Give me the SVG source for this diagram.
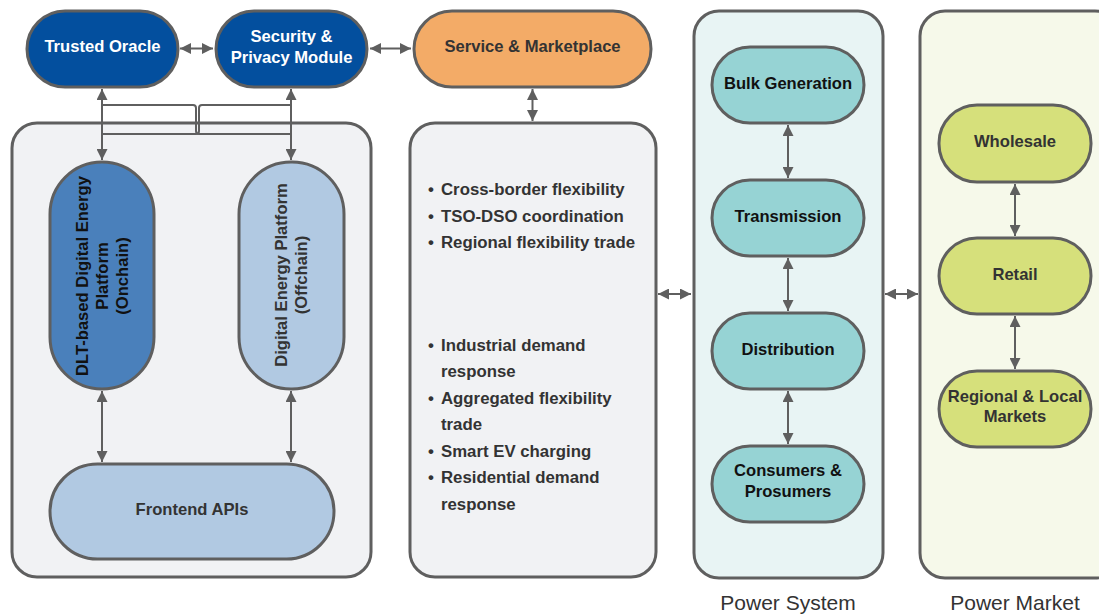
<svg xmlns="http://www.w3.org/2000/svg" width="1099" height="616" viewBox="0 0 1099 616">
<style>
.box{stroke:#5f5f5f;stroke-width:3}
.nd{stroke:#5f5f5f;stroke-width:3}
.t{font-family:"Liberation Sans",Arial,sans-serif;font-weight:bold;font-size:16.6px;text-anchor:middle}
.w{fill:#ffffff}
.k{fill:#111111}
.g{fill:#333333}
.b{font-family:"Liberation Sans",Arial,sans-serif;font-weight:bold;font-size:16.8px;fill:#333333}
.lbl{font-family:"Liberation Sans",Arial,sans-serif;font-size:21px;fill:#333333;text-anchor:middle}
.c{fill:none;stroke:#5f5f5f;stroke-width:2}
</style>
<defs>
<marker id="ah" viewBox="0 0 10 10" refX="10" refY="5" markerWidth="11" markerHeight="11" markerUnits="userSpaceOnUse" orient="auto-start-reverse">
<path d="M0,0 L10,5 L0,10 z" fill="#5f5f5f"/>
</marker>
</defs>
<rect width="1099" height="616" fill="#ffffff"/>

<g id="onchain-offchain-container">
<rect class="box" x="12" y="123" width="359" height="454" rx="25" fill="#f1f2f4"/>
</g>
<g id="use-cases">
<rect class="box" x="410" y="123" width="246" height="454" rx="25" fill="#f1f2f4"/>
<text class="b" x="428" y="195">•</text><text class="b" x="441" y="195">Cross-border flexibility</text>
<text class="b" x="428" y="222">•</text><text class="b" x="441" y="222">TSO-DSO coordination</text>
<text class="b" x="428" y="248">•</text><text class="b" x="441" y="248">Regional flexibility trade</text>
<text class="b" x="428" y="351">•</text><text class="b" x="441" y="351">Industrial demand</text>
<text class="b" x="441" y="377">response</text>
<text class="b" x="428" y="404">•</text><text class="b" x="441" y="404">Aggregated flexibility</text>
<text class="b" x="441" y="430">trade</text>
<text class="b" x="428" y="457">•</text><text class="b" x="441" y="457">Smart EV charging</text>
<text class="b" x="428" y="483">•</text><text class="b" x="441" y="483">Residential demand</text>
<text class="b" x="441" y="510">response</text>
</g>
<g id="power-system">
<rect class="box" x="694" y="11" width="189" height="567" rx="25" fill="#e8f4f4"/>
<text class="lbl" x="788" y="610">Power System</text>
</g>
<g id="power-market">
<rect class="box" x="920" y="11" width="200" height="567" rx="25" fill="#f6f9ea"/>
<text class="lbl" x="1015" y="610">Power Market</text>
</g>

<g id="trusted-oracle">
<rect class="nd" x="27" y="11" width="151" height="76" rx="38" fill="#034f9e"/>
<text class="t w" x="102.5" y="52">Trusted Oracle</text>
</g>
<g id="security-privacy">
<rect class="nd" x="216" y="11" width="151" height="76" rx="38" fill="#034f9e"/>
<text class="t w" x="291.5" y="42">Security &amp;</text>
<text class="t w" x="291.5" y="62.5">Privacy Module</text>
</g>
<g id="service-marketplace">
<rect class="nd" x="414" y="11" width="237" height="76" rx="38" fill="#f3ab67"/>
<text class="t g" x="532.5" y="52">Service &amp; Marketplace</text>
</g>

<g id="dlt-platform">
<rect class="nd" x="50" y="162" width="104" height="227" rx="52" fill="#4a80bb"/>
<g transform="translate(102,276) rotate(-90)">
<text class="t k" x="0" y="-14">DLT-based Digital Energy</text>
<text class="t k" x="0" y="6">Platform</text>
<text class="t k" x="0" y="26">(Onchain)</text>
</g>
</g>
<g id="offchain-platform">
<rect class="nd" x="239" y="162" width="105" height="227" rx="52" fill="#b1c9e2"/>
<g transform="translate(291,275) rotate(-90)">
<text class="t g" x="0" y="-4">Digital Energy Platform</text>
<text class="t g" x="0" y="16">(Offchain)</text>
</g>
</g>
<g id="frontend-apis">
<rect class="nd" x="50" y="464" width="284" height="95" rx="47.5" fill="#b1c9e2"/>
<text class="t g" x="192" y="515">Frontend APIs</text>
</g>

<g id="bulk-generation">
<rect class="nd" x="712" y="47" width="152" height="76" rx="38" fill="#96d3d4"/>
<text class="t k" x="788" y="88.5">Bulk Generation</text>
</g>
<g id="transmission">
<rect class="nd" x="712" y="180" width="152" height="76" rx="38" fill="#96d3d4"/>
<text class="t k" x="788" y="221.5">Transmission</text>
</g>
<g id="distribution">
<rect class="nd" x="712" y="313" width="152" height="76" rx="38" fill="#96d3d4"/>
<text class="t k" x="788" y="354.5">Distribution</text>
</g>
<g id="consumers-prosumers">
<rect class="nd" x="712" y="446" width="152" height="76" rx="38" fill="#96d3d4"/>
<text class="t k" x="788" y="476">Consumers &amp;</text>
<text class="t k" x="788" y="497">Prosumers</text>
</g>

<g id="wholesale">
<rect class="nd" x="939" y="105" width="152" height="77" rx="38" fill="#d6e07b"/>
<text class="t g" x="1015" y="147">Wholesale</text>
</g>
<g id="retail">
<rect class="nd" x="939" y="238" width="152" height="76" rx="38" fill="#d6e07b"/>
<text class="t g" x="1015" y="279.5">Retail</text>
</g>
<g id="regional-local">
<rect class="nd" x="939" y="371" width="152" height="76" rx="38" fill="#d6e07b"/>
<text class="t g" x="1015" y="402">Regional &amp; Local</text>
<text class="t g" x="1015" y="422">Markets</text>
</g>

<g id="connectors">
<line class="c" x1="180" y1="48.5" x2="213" y2="48.5" marker-start="url(#ah)" marker-end="url(#ah)"/>
<line class="c" x1="370" y1="48.5" x2="411" y2="48.5" marker-start="url(#ah)" marker-end="url(#ah)"/>
<line class="c" x1="532.5" y1="89" x2="532.5" y2="121" marker-start="url(#ah)" marker-end="url(#ah)"/>
<line class="c" x1="102" y1="89" x2="102" y2="160" marker-start="url(#ah)" marker-end="url(#ah)"/>
<line class="c" x1="291" y1="89" x2="291" y2="160" marker-start="url(#ah)" marker-end="url(#ah)"/>
<path class="c" d="M102,105 H193 Q196,105 196,108 V131 Q196,134 199,134 H291"/>
<path class="c" d="M291,105 H202 Q199,105 199,108 V131 Q199,134 196,134 H102"/>
<line class="c" x1="102" y1="391" x2="102" y2="462" marker-start="url(#ah)" marker-end="url(#ah)"/>
<line class="c" x1="291" y1="391" x2="291" y2="462" marker-start="url(#ah)" marker-end="url(#ah)"/>
<line class="c" x1="658" y1="294" x2="691" y2="294" marker-start="url(#ah)" marker-end="url(#ah)"/>
<line class="c" x1="885" y1="294" x2="918" y2="294" marker-start="url(#ah)" marker-end="url(#ah)"/>
<line class="c" x1="788" y1="125" x2="788" y2="178" marker-start="url(#ah)" marker-end="url(#ah)"/>
<line class="c" x1="788" y1="258" x2="788" y2="311" marker-start="url(#ah)" marker-end="url(#ah)"/>
<line class="c" x1="788" y1="391" x2="788" y2="444" marker-start="url(#ah)" marker-end="url(#ah)"/>
<line class="c" x1="1015" y1="184" x2="1015" y2="236" marker-start="url(#ah)" marker-end="url(#ah)"/>
<line class="c" x1="1015" y1="316" x2="1015" y2="369" marker-start="url(#ah)" marker-end="url(#ah)"/>
</g>
</svg>
